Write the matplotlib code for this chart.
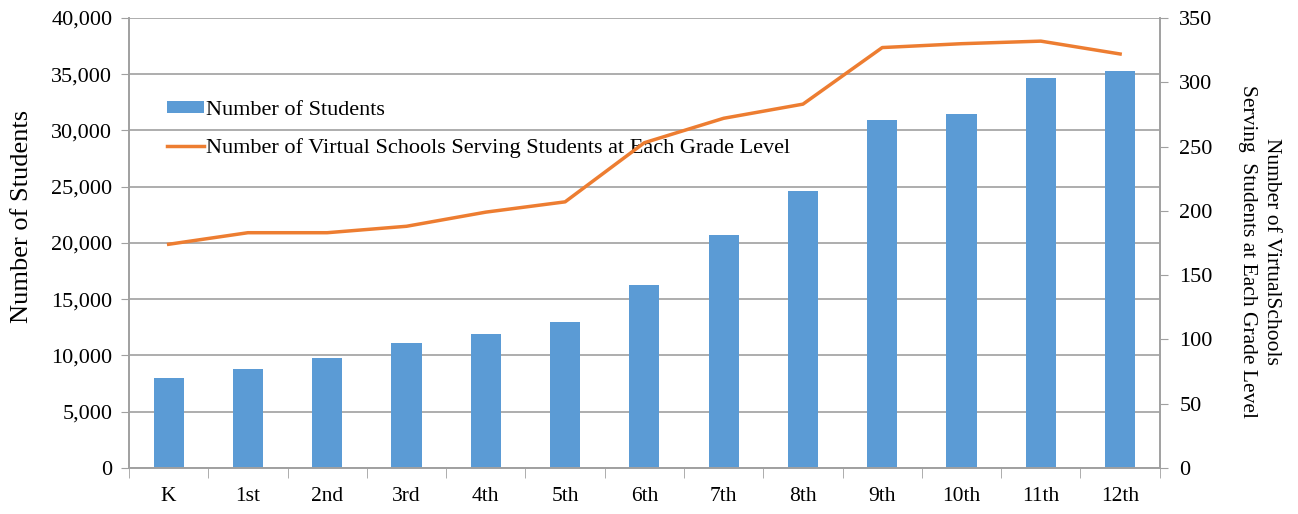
import matplotlib.pyplot as plt
import numpy as np
from matplotlib.ticker import FuncFormatter, MultipleLocator

plt.rcParams['font.family'] = ['Liberation Serif', 'DejaVu Serif']

grades = ["K", "1st", "2nd", "3rd", "4th", "5th", "6th", "7th", "8th", "9th", "10th", "11th", "12th"]
students = [8030, 8770, 9780, 11140, 11910, 13010, 16240, 20740, 24590, 30930, 31440, 34700, 35320]
schools = [174, 183, 183, 188, 199, 207, 253, 272, 283, 327, 330, 332, 322]

bar_color = '#5B9BD5'
line_color = '#ED7D31'
axis_gray = '#A0A0A0'

fig = plt.figure(figsize=(12.98, 5.14), dpi=100)
ax = fig.add_axes([0.0994, 0.0895, 0.7941, 0.8755])
ax2 = ax.twinx()

x = np.arange(len(grades))
ax.bar(x, students, width=0.38, color=bar_color, zorder=2, label='Number of Students')
ax2.plot(x, schools, color=line_color, linewidth=2.5,
         label='Number of Virtual Schools Serving Students at Each Grade Level')

ax.set_xlim(-0.5, len(grades) - 0.5)
ax.set_ylim(0, 40000)
ax2.set_ylim(0, 350)
ax.yaxis.set_major_locator(MultipleLocator(5000))
ax2.yaxis.set_major_locator(MultipleLocator(50))
ax.yaxis.set_major_formatter(FuncFormatter(lambda v, p: f"{int(v):,}"))

ax.grid(axis='y', color=axis_gray, linewidth=1.2, zorder=0)
ax.set_axisbelow(True)

ax.set_xticks(x)
ax.set_xticklabels(grades)
ax.set_xticks(np.arange(-0.5, len(grades)), minor=True)
ax.tick_params(axis='x', which='major', length=0, pad=14, labelsize=15.5)
ax.tick_params(axis='x', which='minor', length=7, color=axis_gray, direction='out')
ax.tick_params(axis='y', length=6, color=axis_gray, labelsize=16, pad=6)
ax2.tick_params(axis='y', length=6, color=axis_gray, labelsize=16, pad=8)

for a in (ax, ax2):
    a.spines['top'].set_visible(False)
    for s in ('left', 'right', 'bottom'):
        a.spines[s].set_color(axis_gray)
        a.spines[s].set_linewidth(1.2)

# left label sits a bit above centre in the original
ax.set_ylabel("Number of Students", fontsize=19, labelpad=13)
ax.yaxis.label.set_y(0.56)
ax2.set_ylabel("Number of VirtualSchools\nServing  Students at Each Grade Level",
               fontsize=15.5, rotation=270, labelpad=49, linespacing=1.35)
ax2.yaxis.label.set_y(0.482)

h1, l1 = ax.get_legend_handles_labels()
h2, l2 = ax2.get_legend_handles_labels()
ax.legend(h1 + h2, l1 + l2, loc='upper left', bbox_to_anchor=(0.037, 0.816),
          frameon=False, fontsize=16, handlelength=1.65, handleheight=0.5,
          labelspacing=0.8, handletextpad=0.1, borderpad=0, borderaxespad=0)

fig.savefig("out.png", dpi=100)
